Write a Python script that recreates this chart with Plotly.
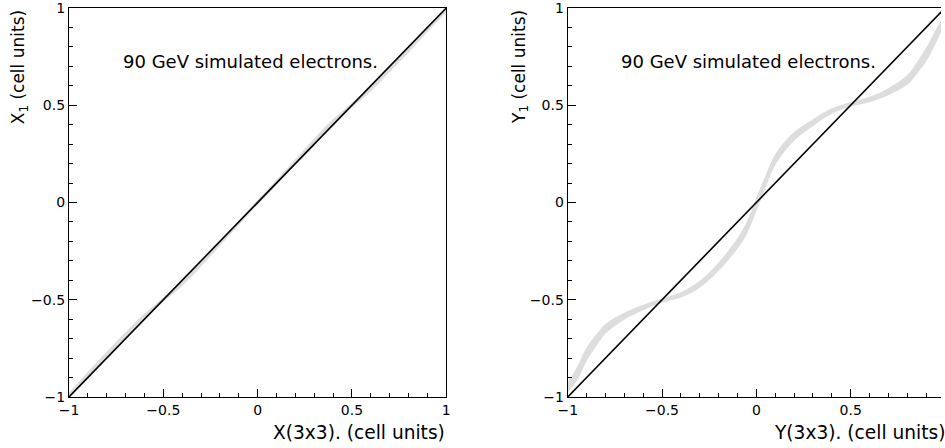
import plotly.graph_objects as go

# ---- data ----
# left panel: X(3x3) vs X1
x3_left = [-1.0, -0.9, -0.8, -0.7, -0.6, -0.5, -0.4, -0.3, -0.2, -0.1, 0.0,
           0.1, 0.2, 0.3, 0.4, 0.5, 0.6, 0.7, 0.8, 0.9, 1.0]
x1_left = [-0.99, -0.885, -0.78, -0.68, -0.585, -0.5, -0.415, -0.315, -0.21, -0.105, 0.0,
           0.105, 0.21, 0.315, 0.415, 0.5, 0.585, 0.685, 0.785, 0.89, 0.99]
half_left = [0.012, 0.014, 0.014, 0.014, 0.014, 0.012, 0.014, 0.014, 0.012, 0.012, 0.012,
             0.012, 0.012, 0.014, 0.014, 0.012, 0.014, 0.014, 0.014, 0.014, 0.012]

# right panel: Y(3x3) vs Y1
y3_right = [-1.0, -0.95, -0.9, -0.85, -0.8, -0.7, -0.6, -0.5, -0.4, -0.3, -0.2, -0.1, -0.05,
            0.0, 0.05, 0.1, 0.2, 0.3, 0.4, 0.5, 0.6, 0.7, 0.8, 0.85, 0.9, 0.95, 1.0]
y1_right = [-0.95, -0.88, -0.78, -0.71, -0.65, -0.585, -0.54, -0.505, -0.475, -0.42, -0.33, -0.21, -0.13,
            -0.01, 0.11, 0.22, 0.34, 0.41, 0.47, 0.505, 0.53, 0.57, 0.63, 0.69, 0.76, 0.85, 0.95]
half_right = [0.025, 0.035, 0.035, 0.03, 0.025, 0.018, 0.014, 0.012, 0.014, 0.018, 0.022, 0.028, 0.032,
              0.035, 0.032, 0.028, 0.022, 0.018, 0.014, 0.012, 0.014, 0.018, 0.025, 0.03, 0.035, 0.035, 0.025]

diag = [-1.0, 1.0]
tick_vals = [-1, -0.5, 0, 0.5, 1]
tick_text = ["\u22121", "\u22120.5", "0", "0.5", "1"]

label_text = "90 GeV simulated electrons."
FONT = "DejaVu Sans, Liberation Sans, Arial, sans-serif"
BAND = "rgba(160,160,160,0.36)"

fig = go.Figure()

def add_band(xs, ys, hw, xa, ya):
    lo = [y - h for y, h in zip(ys, hw)]
    hi = [y + h for y, h in zip(ys, hw)]
    fig.add_trace(go.Scatter(x=xs, y=lo, mode="lines", line=dict(width=0, color=BAND, shape="spline"),
                             xaxis=xa, yaxis=ya, showlegend=False, hoverinfo="skip"))
    fig.add_trace(go.Scatter(x=xs, y=hi, mode="lines", line=dict(width=0, color=BAND, shape="spline"),
                             fill="tonexty", fillcolor=BAND,
                             xaxis=xa, yaxis=ya, showlegend=False, hoverinfo="skip"))

add_band(x3_left, x1_left, half_left, "x", "y")
add_band(y3_right, y1_right, half_right, "x2", "y2")

fig.add_trace(go.Scatter(x=diag, y=diag, mode="lines", line=dict(color="black", width=1.6),
                         xaxis="x", yaxis="y", showlegend=False))
fig.add_trace(go.Scatter(x=diag, y=diag, mode="lines", line=dict(color="black", width=1.6),
                         xaxis="x2", yaxis="y2", showlegend=False))

W, H = 945, 448
ML, MR, MT, MB = 69, 0, 7, 51
pw = W - ML - MR
px_unit = 189.5

def ax_common(**kw):
    d = dict(showline=True, linecolor="black", linewidth=1.2, ticks="inside", ticklen=8,
             tickwidth=1.2, tickcolor="black", tickvals=tick_vals, ticktext=tick_text,
             showgrid=False, zeroline=False, ticklabeloverflow="allow",
             tickfont=dict(family=FONT, size=14, color="black"),
             minor=dict(ticks="inside", ticklen=4, tickwidth=1, tickcolor="black", dtick=0.1,
                        tick0=0, showgrid=False))
    d.update(kw)
    return d

left_end = (448 - ML) / pw
right_start = (570 - ML) / pw
right_range_end = -1 + (W - 570) / px_unit

fig.update_layout(
    width=W, height=H,
    margin=dict(l=ML, r=MR, t=MT, b=MB),
    paper_bgcolor="white", plot_bgcolor="white",
    font=dict(family=FONT, color="black"),
    xaxis=ax_common(domain=[0, left_end], range=[-1, 1], mirror=True, anchor="y"),
    yaxis=ax_common(domain=[0, 1], range=[-1, 1], mirror=True, anchor="x"),
    xaxis2=ax_common(domain=[right_start, 1], range=[-1, right_range_end], mirror=True, anchor="y2"),
    yaxis2=ax_common(domain=[0, 1], range=[-1, 1], mirror=False, anchor="x2"),
)

TF = dict(family=FONT, size=18, color="black")
XF = dict(family=FONT, size=18.6, color="black")
YF = dict(family=FONT, size=17, color="black")
ann = []
for xr, yr in (("x", "y"), ("x2", "y2")):
    ann.append(dict(text=label_text, xref=xr, yref=yr, x=-0.04, y=0.723, showarrow=False,
                    xanchor="center", yanchor="middle", font=TF))
ann.append(dict(text="X(3x3). (cell units)", xref="paper", yref="paper", x=(449 - ML) / pw, y=-0.09,
                xanchor="right", yanchor="middle", showarrow=False, font=XF))
ann.append(dict(text="Y(3x3). (cell units)", xref="paper", yref="paper", x=(951 - ML) / pw, y=-0.09,
                xanchor="right", yanchor="middle", showarrow=False, font=XF))
ann.append(dict(text="X<sub>1</sub> (cell units)", xref="paper", yref="paper", x=(19 - ML) / pw, y=1.0,
                xanchor="center", yanchor="top", textangle=-90, showarrow=False, font=YF))
ann.append(dict(text="Y<sub>1</sub> (cell units)", xref="paper", yref="paper", x=(522 - ML) / pw, y=1.0,
                xanchor="center", yanchor="top", textangle=-90, showarrow=False, font=YF))
fig.update_layout(annotations=ann)

fig.write_html("out.html", config={"displayModeBar": False},
               post_script="document.body.style.margin='0';")
